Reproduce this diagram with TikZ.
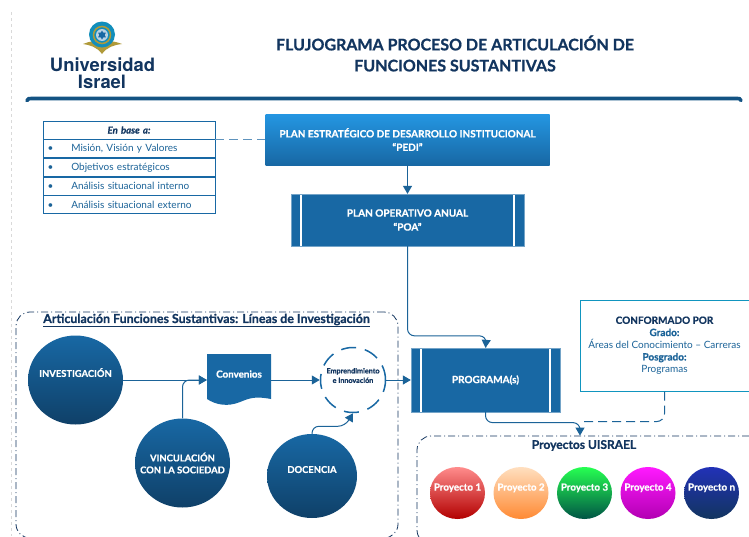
\documentclass[tikz,border=0pt]{standalone}
\usepackage{fontspec}
\setmainfont{Lato}[BoldFeatures={FakeBold=0.8},BoldItalicFeatures={FakeBold=0.8}]
\newfontfamily\logofont{TeX Gyre Heros}
\usepackage{tikz}
\usetikzlibrary{positioning,arrows.meta,shapes.geometric}

\definecolor{navy}{HTML}{12355F}
\definecolor{uiblue}{HTML}{1868A4}
\definecolor{deepblue}{HTML}{0F4068}
\definecolor{linkblue}{HTML}{1B6398}
\definecolor{dashblue}{HTML}{5F93BD}
\definecolor{pedtop}{HTML}{2496E2}
\definecolor{logogold}{HTML}{B09A3A}

\tikzset{
    flow/.style={draw=linkblue, line width=1pt, rounded corners=7pt, -{Triangle[length=8pt,width=9pt]}},
    link/.style={draw=linkblue, line width=1pt, dash pattern=on 9pt off 5pt, rounded corners=8pt},
    rowbox/.style={draw=uiblue, line width=0.8pt, minimum width=172pt, minimum height=17.9pt, inner sep=0pt, text=linkblue, font=\fontsize{10}{11}\selectfont, align=left, text width=163pt},
    procbox/.style={fill=uiblue, draw=uiblue!60, line width=0.3pt, text=white, font=\fontsize{10}{14}\selectfont\bfseries, align=center,
        path picture={
            \draw[white, line width=1.2pt] ([xshift=10pt]path picture bounding box.north west) -- ([xshift=10pt]path picture bounding box.south west);
            \draw[white, line width=1.2pt] ([xshift=-10pt]path picture bounding box.north east) -- ([xshift=-10pt]path picture bounding box.south east);
        }},
    ball/.style={shape=ellipse, top color=uiblue, bottom color=deepblue, inner sep=-15pt, text=white, font=\fontsize{9.4}{12}\selectfont\bfseries, align=center},
    groupbox/.style={draw=navy, line width=0.8pt, dash pattern=on 7pt off 3pt on 1pt off 3pt, rounded corners=14pt},
    projball/.style={shape=ellipse, minimum width=55pt, minimum height=52pt, inner sep=-10pt, text=white, font=\fontsize{9.8}{11}\selectfont\bfseries, align=center}
}

\begin{document}
\begin{tikzpicture}[x=1pt, y=-1pt, node distance=63.5pt]
    \useasboundingbox (0,0) rectangle (749,536);
    \fill[white] (0,0) rectangle (749,536);
    \draw[black!15, dashed, line width=0.7pt] (11.5,12) -- (11.5,536);

    % Logo
    \path[fill=logogold] (102,54) .. controls (97,47) and (90,45) .. (83,44) .. controls (90,41) and (97,40) .. (102,43) .. controls (107,40) and (114,41) .. (122,44) .. controls (114,45) and (107,47) .. (102,54);
    \fill[uiblue!75!cyan] (102,34.5) circle (13pt);
    \draw[logogold, line width=1.5pt] (102,35) circle (8.5pt);
    \fill[white!70!uiblue] (102,35) circle (6pt);
    \node[star, star points=6, star point ratio=1.7, fill=uiblue, minimum size=9pt, inner sep=0pt] (ST) at (102,35) {};
    \node (UN) at (102.5,64.5) [text=navy, font=\logofont\fontsize{18.4}{20}\selectfont\bfseries, inner sep=0pt] {Universidad};
    \node (IS) at (102,81.5) [text=navy, font=\logofont\fontsize{18.4}{20}\selectfont\bfseries, inner sep=0pt] {Israel};

    % Title
    \node (TI) at (455,53.5) [text=navy, font=\fontsize{16}{21}\selectfont\bfseries, align=center, inner sep=0pt] {
        FLUJOGRAMA PROCESO DE ARTICULACIÓN DE\\ FUNCIONES SUSTANTIVAS
    };
    \draw[line width=3.6pt, uiblue!80!black, line cap=round] (27,100.5) .. controls (28,98.5) .. (35,98.5) -- (735,98.5) .. controls (740,98.5) .. (741,100.5);

    % Table
    \node (T0) at (129,130) [rowbox, align=center, font=\fontsize{9.6}{11}\selectfont\bfseries\itshape, text=navy] {En base a:};
    \node (T1) [rowbox, below=0pt of T0] {\textbullet\hspace{18pt}Misión, Visión y Valores};
    \node (T2) [rowbox, below=0pt of T1] {\textbullet\hspace{18pt}Objetivos estratégicos};
    \node (T3) [rowbox, below=0pt of T2] {\textbullet\hspace{18pt}Análisis situacional interno};
    \node (T4) [rowbox, below=0pt of T3] {\textbullet\hspace{18pt}Análisis situacional externo};

    % Main boxes
    \node (PEDI) at (407.5,139.5) [minimum width=284pt, minimum height=51pt, top color=pedtop, bottom color=uiblue, inner sep=0pt, text=white, font=\fontsize{10}{13.5}\selectfont\bfseries, align=center] {
        PLAN ESTRATÉGICO DE DESARROLLO INSTITUCIONAL\\ “PEDI”
    };
    \node (POA) at (407.5,220) [procbox, minimum width=233pt, minimum height=52pt, inner sep=0pt] {
        PLAN OPERATIVO ANUAL\\ “POA”
    };
    \node (PRO) at (485.5,380) [procbox, minimum width=149pt, minimum height=64pt, inner sep=0pt] {PROGRAMA(s)};
    \node (CONF) at (664.5,345.5) [draw=uiblue!70!cyan, fill=white, line width=1pt, minimum width=169pt, minimum height=91pt, inner sep=0pt, text=linkblue, font=\fontsize{10}{12.2}\selectfont, align=center] {
        {\bfseries\color{navy}CONFORMADO POR}\\ {\bfseries Grado:}\\ Áreas del Conocimiento -- Carreras\\ {\bfseries Posgrado:}\\ Programas
    };

    % Left group
    \node (GF) at (207,425) [groupbox, minimum width=382pt, minimum height=226pt, inner sep=0pt] {};
    \node (GFT) at (206.5,320.5) [text=navy, font=\fontsize{12.4}{13}\selectfont\bfseries, inner sep=1pt] {\underline{Articulación Funciones Sustantivas: Líneas de Investigación}};
    \node (INV) at (75.5,380) [ball, minimum width=95pt, minimum height=89pt, text depth=15pt] {INVESTIGACIÓN};
    \node (VIN) at (182.5,463) [ball, minimum width=95pt, minimum height=89pt] {VINCULACIÓN\\CON LA SOCIEDAD};
    \node (DOC) at (312,476) [ball, minimum width=90pt, minimum height=84pt, text depth=13pt] {DOCENCIA};
    \fill[uiblue] (207,354) -- (271,354) -- (271,399) .. controls (255,396) and (250,398) .. (240,402) .. controls (228,407) and (216,405) .. (207,399) -- cycle;
    \node (CON) at (239,380) [minimum width=64pt, minimum height=51pt, inner sep=0pt, text=white, text depth=12pt, font=\fontsize{9.8}{11}\selectfont\bfseries] {Convenios};
    \node (EMP) at (353,380) [shape=circle, draw=uiblue, line width=1.5pt, dash pattern=on 15pt off 9pt, minimum size=65pt, inner sep=-6pt, text=navy, font=\fontsize{7.2}{9.5}\selectfont\bfseries, align=center] {
        Emprendimiento\\ e Innovación\\[-0.5pt]
    };

    % Right group
    \node (GP) at (590,490) [groupbox, minimum width=346pt, minimum height=108pt, inner sep=0pt] {};
    \node (GPT) at (584,445.5) [text=navy, font=\fontsize{12}{12}\selectfont\bfseries, inner sep=0pt] {Proyectos UISRAEL};
    \node (P1) at (457.5,493) [projball, top color=red!45!white, bottom color=red!70!black] {Proyecto 1\\[1pt]};
    \node (P2) [projball, right of=P1, top color=orange!25!white, bottom color=orange!85!red!80!white] {Proyecto 2\\[1pt]};
    \node (P3) [projball, right of=P2, top color=green!80!cyan!85!white, bottom color=green!55!blue!60!black] {Proyecto 3\\[1pt]};
    \node (P4) [projball, right of=P3, top color=magenta!90!white, bottom color=magenta!70!black] {Proyecto 4\\[1pt]};
    \node (Pn) [projball, right of=P4, top color=blue!50!navy!90, bottom color=navy] {Proyecto n\\[1pt]};

    % Connecting lines
    \draw[link, draw=dashblue] (T1.north east) -- (PEDI.west |- T1.north);
    \draw[flow] (PEDI.south) -- (POA.north);
    \draw[flow] (POA.south) |- ([xshift=1pt,yshift=12pt]PRO.north) -- (PRO.north);
    \draw[flow] (INV.east) -- (CON.west);
    \draw[flow] (VIN.north) |- (CON.west);
    \draw[flow] (CON.east) -- (EMP.west);
    \draw[flow] (EMP.east) -- (PRO.west);
    \draw[flow] (DOC.north) |- ([xshift=-8pt,yshift=-13pt]EMP.south) -- (EMP.south);
    \draw[flow] (PRO.south) |- ([xshift=-10pt,yshift=13pt]GP.north) -- ([xshift=-10pt]GP.north);
    \draw[link] (CONF.south) |- ([xshift=-10pt,yshift=14pt]GP.north);
\end{tikzpicture}
\end{document}
